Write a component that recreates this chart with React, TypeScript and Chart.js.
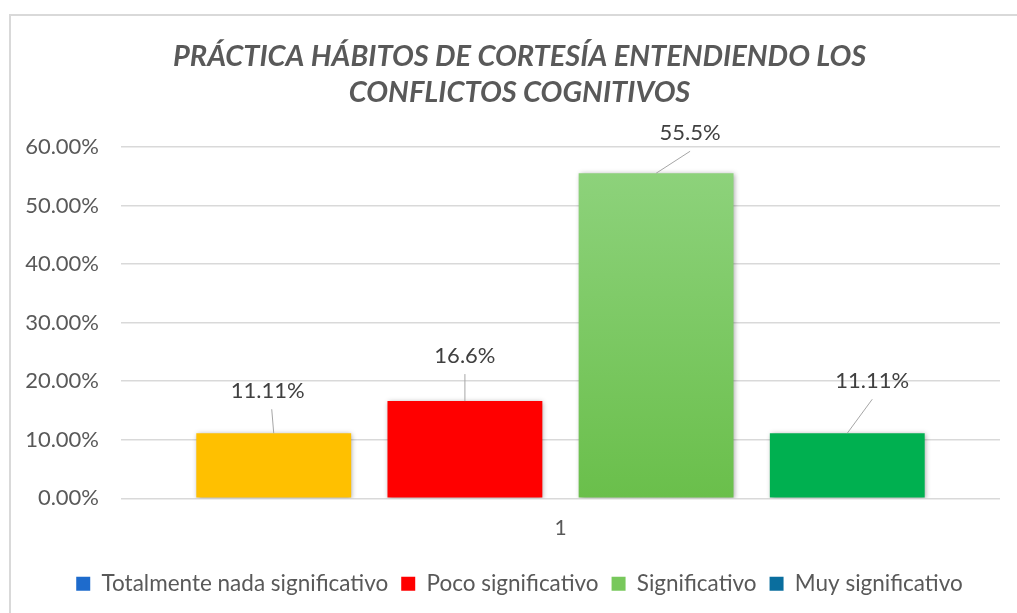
import React, { useEffect, useRef } from "react";
import { Chart, registerables } from "chart.js";

Chart.register(...registerables);

const categories = ["1"];
const seriesNames = [
  "Totalmente nada significativo",
  "Poco significativo",
  "Significativo",
  "Muy significativo",
];
const seriesValues = [0.1111, 0.166, 0.555, 0.1111];
const valueLabels = ["11.11%", "16.6%", "55.5%", "11.11%"];
const titleLines = [
  "PRÁCTICA HÁBITOS DE CORTESÍA ENTENDIENDO LOS",
  "CONFLICTOS COGNITIVOS",
];

const barColors = ["#FFC000", "#FF0000", "green-gradient", "#00B050"];
const legendColors = ["#1E6BCC", "#FF0000", "#78C85C", "#0A6E9E"];
// label offsets (px) relative to bar top centre, as in the source's leader lines
const labelOffsets = [
  [-6, -42],
  [0, -45],
  [34, -40],
  [25, -52],
];

const FONT = "Lato, 'Open Sans', sans-serif";
const GREY = "#595959";

const borderPlugin = {
  id: "outerBorder",
  beforeDraw(chart: any) {
    const ctx = chart.ctx;
    ctx.save();
    ctx.fillStyle = "#ffffff";
    ctx.fillRect(0, 0, chart.width, chart.height);
    ctx.strokeStyle = "#d9d9d9";
    ctx.lineWidth = 2;
    ctx.strokeRect(10, 15, chart.width + 20, chart.height + 20);
    ctx.restore();
  },
};

const shadowPlugin = {
  id: "barShadow",
  beforeDatasetsDraw(chart: any) {
    const ctx = chart.ctx;
    ctx.save();
    ctx.shadowColor = "rgba(0,0,0,0.35)";
    ctx.shadowBlur = 5;
    ctx.shadowOffsetX = 1;
    ctx.shadowOffsetY = 1;
  },
  afterDatasetsDraw(chart: any) {
    chart.ctx.restore();
  },
};

const labelPlugin = {
  id: "leaderLabels",
  afterDatasetsDraw(chart: any) {
    const ctx = chart.ctx;
    ctx.save();
    chart.data.datasets.forEach((ds: any, i: number) => {
      const meta = chart.getDatasetMeta(i);
      const bar = meta.data[0];
      if (!bar) return;
      const [dx, dy] = labelOffsets[i];
      const lx = bar.x + dx;
      const ly = bar.y + dy;
      ctx.strokeStyle = "#a6a6a6";
      ctx.lineWidth = 1;
      ctx.beginPath();
      ctx.moveTo(lx + (i === 0 ? 4 : 0), ly + 18);
      ctx.lineTo(bar.x, bar.y);
      ctx.stroke();
      ctx.font = `22px ${FONT}`;
      ctx.fillStyle = "#404040";
      ctx.textAlign = "center";
      ctx.textBaseline = "middle";
      ctx.fillText(valueLabels[i], lx, ly);
    });
    ctx.restore();
  },
};

function greenFill(context: any) {
  const chart = context.chart;
  const y = chart.scales && chart.scales.y;
  if (!y || !chart.chartArea) return "#78C85C";
  const top = y.getPixelForValue(seriesValues[2]);
  const bottom = y.getPixelForValue(0);
  const g = chart.ctx.createLinearGradient(0, top, 0, bottom);
  g.addColorStop(0, "#8DD27B");
  g.addColorStop(1, "#6ABF4B");
  return g;
}

export default function App() {
  const ref = useRef<HTMLCanvasElement>(null);
  useEffect(() => {
    document.body.style.margin = "0";
    const canvas = ref.current!;
    const chart = new Chart(canvas, {
      type: "bar",
      data: {
        labels: categories,
        datasets: seriesNames.map((name, i) => ({
          label: name,
          data: [seriesValues[i]],
          backgroundColor: barColors[i] === "green-gradient" ? greenFill : barColors[i],
          borderWidth: 0,
          categoryPercentage: 0.87,
          barPercentage: 0.81,
        })),
      },
      options: {
        animation: false,
        responsive: false,
        maintainAspectRatio: false,
        layout: { padding: { left: 0, right: -22, top: 0, bottom: 8 } },
        scales: {
          x: {
            grid: { display: false, drawTicks: false },
            border: { display: false },
            afterFit(scale: any) {
              scale.height += 2;
            },
            ticks: { color: GREY, font: { family: FONT, size: 21 }, padding: 17 },
          },
          y: {
            min: 0,
            max: 0.6,
            afterFit(scale: any) {
              scale.width = 121;
            },
            grid: { color: "#d9d9d9", lineWidth: 1.5, drawTicks: false },
            border: { display: false },
            ticks: {
              stepSize: 0.1,
              padding: 22,
              color: GREY,
              font: { family: FONT, size: 22 },
              callback: (v: any) => (Number(v) * 100).toFixed(2) + "%",
            },
          },
          yRight: {
            position: "right",
            min: 0,
            max: 0.6,
            afterFit(scale: any) {
              scale.width = 39;
            },
            grid: { display: false, drawTicks: false },
            border: { display: false },
            ticks: { display: false },
          },
        },
        plugins: {
          title: {
            display: true,
            text: titleLines,
            color: GREY,
            font: { family: FONT, size: 29, weight: "bold", style: "italic", lineHeight: 1.24 },
            padding: { top: 39, bottom: 36 },
          },
          legend: {
            position: "bottom",
            labels: {
              color: GREY,
              font: { family: FONT, size: 22.5 },
              boxWidth: 14,
              boxHeight: 14,
              padding: 13,
              generateLabels: (ch: any) =>
                ch.data.datasets.map((ds: any, i: number) => ({
                  text: ds.label,
                  fillStyle: legendColors[i],
                  strokeStyle: legendColors[i],
                  lineWidth: 0,
                  hidden: false,
                  datasetIndex: i,
                  fontColor: GREY,
                })),
            },
          },
          tooltip: { enabled: false },
        },
      },
      plugins: [borderPlugin, shadowPlugin, labelPlugin],
    } as any);
    return () => chart.destroy();
  }, []);
  return (
    <div style={{ width: 1017, height: 613 }}>
      <canvas ref={ref} width={1017} height={613} style={{ display: "block" }} />
    </div>
  );
}
